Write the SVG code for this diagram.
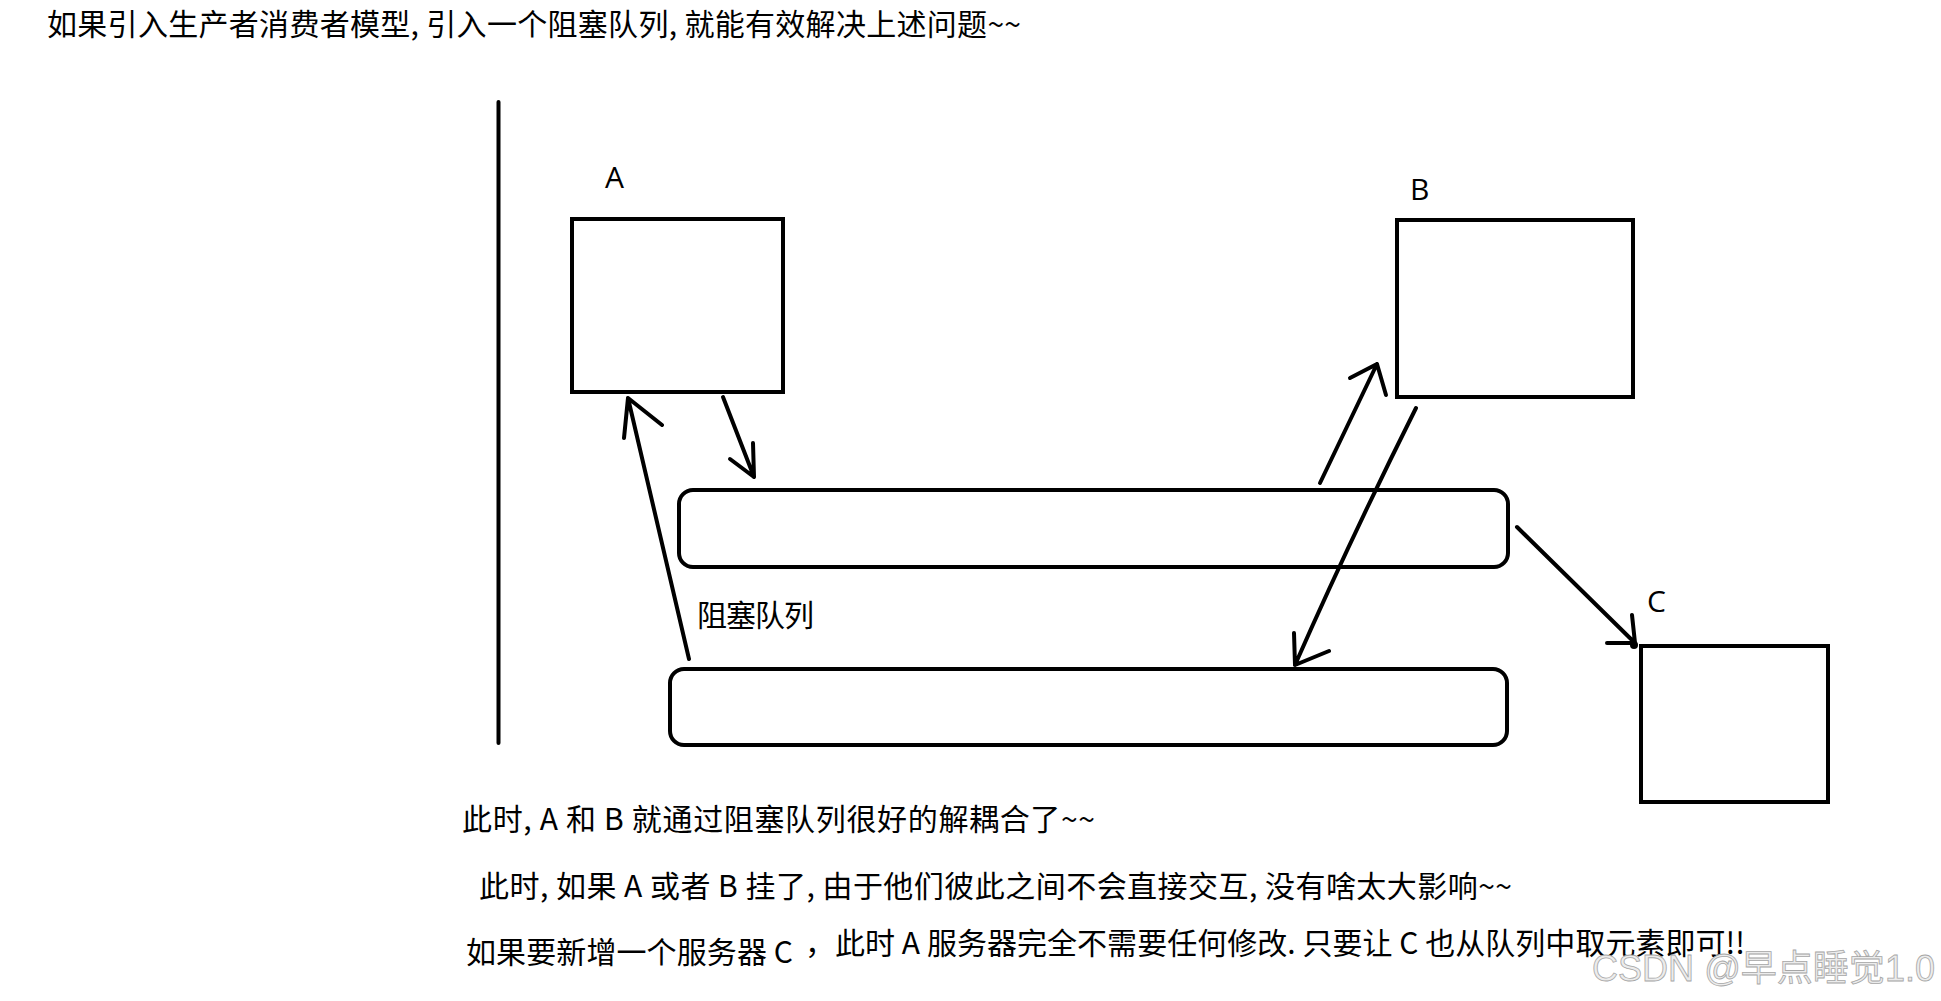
<svg xmlns="http://www.w3.org/2000/svg" width="1941" height="1001" viewBox="0 0 1941 1001">
  <style>
    .box { fill: none; stroke: #000; stroke-width: 4; }
    .ln { fill: none; stroke: #000; stroke-width: 4; stroke-linecap: round; stroke-linejoin: round; }
    .cjk { font-family: 'Noto Sans CJK SC', 'Noto Sans', sans-serif; font-size: 30px; fill: #000; }
    .lbl { font-family: 'Open Sans', 'Liberation Sans', sans-serif; font-size: 30px; fill: #000; }
    .wm { font-family: 'Liberation Sans', 'Noto Sans CJK SC', sans-serif; font-size: 36px; fill: #ececec; stroke: #a6a6a6; stroke-width: 0.8; }
  </style>
  <rect width="1941" height="1001" fill="#fff"/>

  <text class="cjk" x="47" y="35" textLength="974">如果引入生产者消费者模型, 引入一个阻塞队列, 就能有效解决上述问题~~</text>

  <line id="divider" class="ln" x1="498.5" y1="102" x2="498.5" y2="743"/>

  <g id="node-A">
    <text class="lbl" x="605" y="188">A</text>
    <rect class="box" x="572" y="219" width="211" height="173"/>
  </g>
  <g id="node-B">
    <text class="lbl" x="1410" y="200">B</text>
    <rect class="box" x="1397" y="220" width="236" height="177"/>
  </g>
  <g id="node-C">
    <text class="lbl" x="1647" y="612">C</text>
    <rect class="box" x="1641" y="646" width="187" height="156"/>
  </g>
  <g id="queue-1">
    <rect class="box" x="679" y="490" width="829" height="77" rx="14" ry="14"/>
  </g>
  <g id="queue-2">
    <text class="cjk" x="697" y="626" font-size="29" textLength="117">阻塞队列</text>
    <rect class="box" x="670" y="669" width="837" height="76" rx="14" ry="14"/>
  </g>

  <g id="connectors">
    <path class="ln" d="M723,397 L754,477 M730,459 L754,477 L753,443"/>
    <path class="ln" d="M689,659 L628,398 M624,438 L628,398 L662,425"/>
    <path class="ln" d="M1320,483 L1377,364 M1350,378 L1377,364 L1386,395"/>
    <path class="ln" d="M1416,408 Q1350,540 1295,665 M1294,633 L1295,665 L1329,651"/>
    <path class="ln" d="M1517,527 L1635,643 M1632,615 L1635,643 L1607,643"/>
    <circle cx="1634" cy="645" r="4" fill="#000"/>
  </g>

  <g id="notes">
    <text class="cjk" x="462" y="830" textLength="633">此时, A 和 B 就通过阻塞队列很好的解耦合了~~</text>
    <text class="cjk" x="479" y="897" textLength="1033">此时, 如果 A 或者 B 挂了, 由于他们彼此之间不会直接交互, 没有啥太大影响~~</text>
    <text class="cjk" x="466" y="963" textLength="327">如果要新增一个服务器 C</text>
    <text class="cjk" x="805" y="954" textLength="940">，此时 A 服务器完全不需要任何修改. 只要让 C 也从队列中取元素即可!!</text>
  </g>

  <text class="wm" x="1592" y="981" textLength="343">CSDN @早点睡觉1.0</text>
</svg>
